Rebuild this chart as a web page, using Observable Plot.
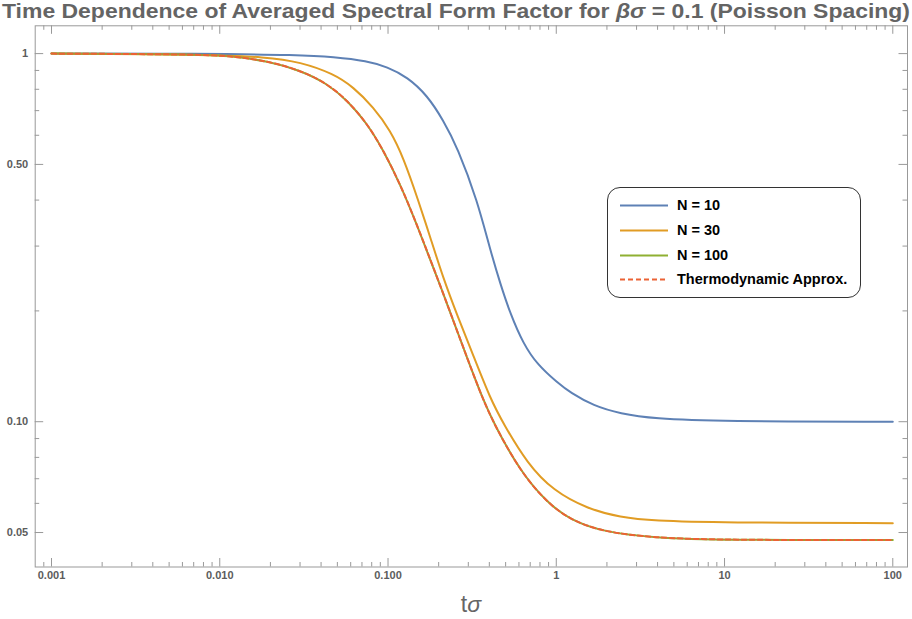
<!DOCTYPE html>
<html><head><meta charset="utf-8">
<script src="https://cdn.jsdelivr.net/npm/d3@7"></script>
<script src="https://cdn.jsdelivr.net/npm/@observablehq/plot@0.6"></script>
<style>
html,body{margin:0;padding:0;background:#fff}
body{width:912px;height:619px;overflow:hidden;position:relative;font-family:"Liberation Sans",Arial,sans-serif}
#title{position:absolute;left:0;top:0;width:912px;height:22px;line-height:22px;white-space:nowrap}
#tt{display:inline-block;font-weight:bold;font-size:21px;color:#646464;transform-origin:0 50%}
#chart{position:absolute;left:0;top:22px}
#xlabel{position:absolute;left:0;width:942px;text-align:center;top:591px;font-size:23px;color:#666;line-height:26px}
#legend{position:absolute;left:607px;top:187px;width:252px;height:109px;border:1px solid #333;border-radius:13px;background:#fff}
.row{position:absolute;left:0;height:20px}
.row svg{position:absolute;left:12px;top:0}
.row span{position:absolute;left:69px;top:0;line-height:20px;font-weight:bold;font-size:14.5px;color:#000;white-space:nowrap}
</style></head><body>
<div id="title"><span id="tt">Time Dependence of Averaged Spectral Form Factor for <i>βσ</i> = 0.1 (Poisson Spacing)</span></div>
<div id="chart"></div>
<div id="xlabel">t<i>σ</i></div>
<div id="legend"></div>
<script>
// ---- data ----
const seriesNames = ["N = 10", "N = 30", "N = 100", "Thermodynamic Approx."];
const seriesColors = ["#5E81B5", "#E19C24", "#8FB032", "#EB6235"];

const tN10 = [0.001, 0.00766, 0.0301, 0.0473, 0.0753, 0.099, 0.1302, 0.1712, 0.2133, 0.2582, 0.3397, 0.4057, 0.4653, 0.5335, 0.6374, 0.772, 1.015, 1.213, 1.662, 2.405, 3.778, 9.45, 100];
const vN10 = [1, 1, 0.9913, 0.9789, 0.9547, 0.9195, 0.8638, 0.77, 0.6587, 0.5571, 0.399, 0.2918, 0.2368, 0.1963, 0.1627, 0.1429, 0.1277, 0.1199, 0.1105, 0.1051, 0.1019, 0.1002, 0.1];

const tN30 = [0.001, 0.00766, 0.01916, 0.0301, 0.0473, 0.0622, 0.0818, 0.1032, 0.1233, 0.1514, 0.1784, 0.2133, 0.2582, 0.3215, 0.4057, 0.4848, 0.6734, 0.9612, 1.531, 2.405, 3.778, 9.45, 100];
const vN30 = [1, 0.9956, 0.9789, 0.9488, 0.8822, 0.8114, 0.7157, 0.6186, 0.5224, 0.399, 0.3165, 0.2448, 0.1942, 0.1512, 0.1154, 0.0988, 0.0769, 0.0649, 0.058, 0.055, 0.0538, 0.0532, 0.053];

const tN100 = [0.001, 0.00766, 0.01203, 0.01916, 0.0301, 0.04357, 0.0573, 0.0753, 0.0938, 0.1183, 0.1453, 0.2046, 0.3086, 0.3636, 0.4227, 0.6118, 0.8852, 1.213, 1.905, 3.778, 9.45, 100];
const vN100 = [1, 0.9956, 0.9833, 0.9547, 0.9007, 0.8286, 0.7462, 0.6452, 0.5461, 0.441, 0.3521, 0.2344, 0.1411, 0.1162, 0.0994, 0.0731, 0.0602, 0.0541, 0.0502, 0.0484, 0.0477, 0.0477];

const tThermo = [0.001, 0.00766, 0.01203, 0.01916, 0.0301, 0.04357, 0.0573, 0.0753, 0.0938, 0.1183, 0.1453, 0.2046, 0.3086, 0.3636, 0.4227, 0.6118, 0.8852, 1.213, 1.905, 3.778, 9.45, 100];
const vThermo = [1, 0.9956, 0.9833, 0.9547, 0.9007, 0.8286, 0.7462, 0.6452, 0.5461, 0.441, 0.3521, 0.2344, 0.1411, 0.1162, 0.0994, 0.0731, 0.0602, 0.0541, 0.0502, 0.0484, 0.0477, 0.0477];

const xMajorTicks = [0.001, 0.01, 0.1, 1, 10, 100];
const xTickLabels = ["0.001", "0.010", "0.100", "1", "10", "100"];
const xMinorTicks = [0.0009,
  0.002,0.003,0.004,0.005,0.006,0.007,0.008,0.009,
  0.02,0.03,0.04,0.05,0.06,0.07,0.08,0.09,
  0.2,0.3,0.4,0.5,0.6,0.7,0.8,0.9,
  2,3,4,5,6,7,8,9,
  20,30,40,50,60,70,80,90];
const yMajorTicks = [1, 0.5, 0.1, 0.05];
const yTickLabels = ["1", "0.50", "0.10", "0.05"];
const yMinorTicks = [0.9, 0.8, 0.7, 0.6, 0.4, 0.3, 0.2, 0.09, 0.08, 0.07, 0.06];

const xDomain = [0.0008, 122.3];
const yDomain = [0.0403, 1.19];

// ---- layout ----
const W = 912, H = 597, mt = 3.3, mb = 52.5, ml = 34.7, mr = 5;
const innerW = W - ml - mr, innerH = H - mt - mb;
const frameColor = "#999999", labelColor = "#5c5c5c";
const majorLen = 8.5, minorLen = 4.5;

const toRows = (ts, vs) => ts.map((t, i) => ({t, v: vs[i]}));
const dN10 = toRows(tN10, vN10), dN30 = toRows(tN30, vN30), dN100 = toRows(tN100, vN100), dTh = toRows(tThermo, vThermo);

const tickMarks = [
  Plot.ruleX(xMajorTicks, {x: d => d, insetTop: innerH - majorLen, stroke: frameColor}),
  Plot.ruleX(xMajorTicks, {x: d => d, insetBottom: innerH - majorLen, stroke: frameColor}),
  Plot.ruleX(xMinorTicks, {x: d => d, insetTop: innerH - minorLen, stroke: frameColor}),
  Plot.ruleX(xMinorTicks, {x: d => d, insetBottom: innerH - minorLen, stroke: frameColor}),
  Plot.ruleY(yMajorTicks, {y: d => d, insetRight: innerW - majorLen, stroke: frameColor}),
  Plot.ruleY(yMajorTicks, {y: d => d, insetLeft: innerW - majorLen, stroke: frameColor}),
  Plot.ruleY(yMinorTicks, {y: d => d, insetRight: innerW - minorLen, stroke: frameColor}),
  Plot.ruleY(yMinorTicks, {y: d => d, insetLeft: innerW - minorLen, stroke: frameColor})
];

const lineOpts = {x: "t", y: "v", strokeWidth: 2, curve: "basis"};
const chart = Plot.plot({
  width: W, height: H,
  marginTop: mt, marginBottom: mb, marginLeft: ml, marginRight: mr,
  x: {type: "log", domain: xDomain, axis: null},
  y: {type: "log", domain: yDomain, axis: null},
  style: {fontFamily: "'Liberation Sans', Arial, sans-serif", background: "transparent", overflow: "visible"},
  marks: [
    ...tickMarks,
    Plot.frame({stroke: frameColor, strokeWidth: 1}),
    Plot.line(dN10, {...lineOpts, stroke: seriesColors[0]}),
    Plot.line(dN30, {...lineOpts, stroke: seriesColors[1]}),
    Plot.line(dN100, {...lineOpts, stroke: seriesColors[2]}),
    Plot.line(dTh, {...lineOpts, stroke: seriesColors[3], strokeDasharray: "5,3"}),
    Plot.text(xMajorTicks, {x: d => d, text: (d, i) => xTickLabels[i], frameAnchor: "bottom", dy: 12, fontSize: 11, fontWeight: "bold", fill: labelColor}),
    Plot.text(yMajorTicks, {y: d => d, text: (d, i) => yTickLabels[i], frameAnchor: "left", dx: -7, textAnchor: "end", fontSize: 11, fontWeight: "bold", fill: labelColor})
  ]
});
document.getElementById("chart").appendChild(chart);

// legend
const legend = document.getElementById("legend");
seriesNames.forEach((name, i) => {
  const row = document.createElement("div");
  row.className = "row";
  row.style.top = (7 + 24.8 * i) + "px";
  const dash = i === 3 ? ' stroke-dasharray="5,3"' : '';
  row.innerHTML = `<svg width="48" height="20"><line x1="0" x2="48" y1="10.5" y2="10.5" stroke="${seriesColors[i]}" stroke-width="2"${dash}/></svg><span>${name}</span>`;
  legend.appendChild(row);
});

// fit title width
const tt = document.getElementById("tt");
const w = tt.getBoundingClientRect().width;
tt.style.transform = `translateX(2px) scaleX(${908 / w})`;
</script>
</body></html>
